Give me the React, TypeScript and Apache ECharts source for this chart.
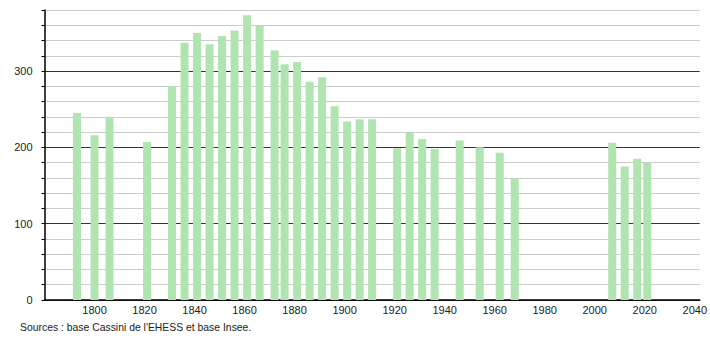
import React, { useEffect, useRef } from "react";
import * as echarts from "echarts";

const years = [1793, 1800, 1806, 1821, 1831, 1836, 1841, 1846, 1851, 1856, 1861, 1866, 1872, 1876, 1881, 1886, 1891, 1896, 1901, 1906, 1911, 1921, 1926, 1931, 1936, 1946, 1954, 1962, 1968, 2007, 2012, 2017, 2021];
const population = [245, 216, 240, 207, 280, 337, 350, 335, 346, 353, 373, 360, 327, 309, 312, 286, 292, 254, 234, 237, 237, 199, 219, 211, 198, 209, 200, 193, 159, 206, 175, 185, 180];
const sourceText = "Sources : base Cassini de l'EHESS et base Insee.";

export default function App() {
  const ref = useRef<HTMLDivElement>(null);
  useEffect(() => {
    if (!ref.current) return;
    const chart = echarts.init(ref.current, null, { renderer: "svg" });
    const font = "'Liberation Sans', Arial, sans-serif";
    chart.setOption({
      animation: false,
      backgroundColor: "#ffffff",
      grid: { left: 44.5, right: 9, top: 10, bottom: 40 },
      xAxis: {
        type: "value",
        min: 1780,
        max: 2042,
        interval: 20,
        axisLine: { show: true, onZero: false, lineStyle: { color: "#000", width: 1.5 } },
        axisTick: { show: false },
        splitLine: { show: false },
        axisLabel: {
          color: "#222",
          fontSize: 11,
          fontFamily: font,
          margin: 4,
          formatter: (v: number) => (v % 20 === 0 && v !== 1780 ? String(v) : ""),
        },
      },
      yAxis: {
        type: "value",
        min: 0,
        max: 380,
        interval: 20,
        axisLine: { show: true, lineStyle: { color: "#000", width: 1.5 } },
        axisTick: { show: true, length: 3, lineStyle: { color: "#000" } },
        axisLabel: {
          color: "#222",
          fontSize: 11,
          fontFamily: font,
          margin: 12,
          formatter: (v: number) => (v % 100 === 0 ? String(v) : ""),
        },
        splitLine: {
          show: true,
          lineStyle: { color: ["#333", "#cccccc", "#cccccc", "#cccccc", "#cccccc"], width: 1 },
        },
      },
      series: [
        {
          type: "bar",
          data: years.map((y, i) => [y, population[i]]),
          barWidth: 8,
          itemStyle: { color: "#b0e4b0" },
        },
      ],
      graphic: [
        {
          type: "text",
          left: 20,
          top: 322,
          style: { text: sourceText, fill: "#222", font: `10.4px ${font}` },
        },
      ],
    });
    return () => chart.dispose();
  }, []);
  return (
    <div
      ref={ref}
      style={{ position: "fixed", left: 0, top: 0, width: 710, height: 340 }}
    />
  );
}
